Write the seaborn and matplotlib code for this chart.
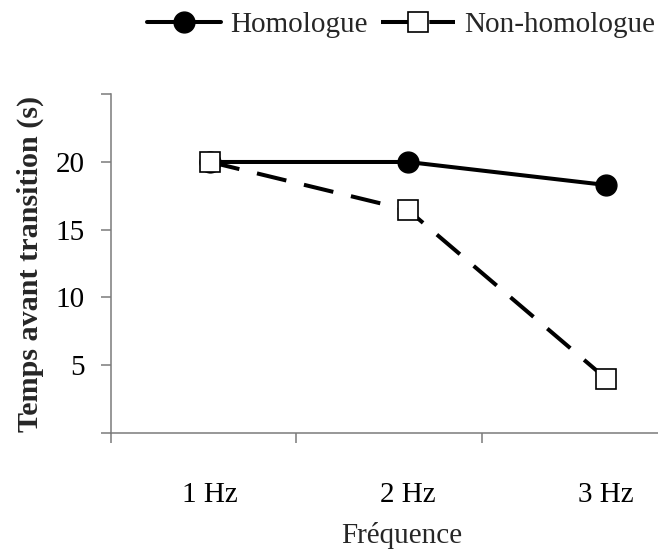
import matplotlib
matplotlib.use("Agg")
import matplotlib.pyplot as plt
import seaborn as sns
import pandas as pd

# Data
frequences = ["1 Hz", "2 Hz", "3 Hz"]
homologue = [20.0, 20.0, 18.3]
non_homologue = [20.0, 16.45, 4.0]
y_ticks = [0, 5, 10, 15, 20, 25]
y_tick_labels = ["", "5", "10", "15", "20", ""]

sns.set_style("ticks")
plt.rcParams["font.family"] = ["Liberation Serif", "DejaVu Serif"]

fig = plt.figure(figsize=(6.58, 5.52), dpi=100)
ax = fig.add_axes([111 / 658, 1 - 432.7 / 552, 547 / 658, 338.4 / 552])

df_h = pd.DataFrame({"freq": frequences, "temps": homologue})
df_n = pd.DataFrame({"freq": frequences, "temps": non_homologue})

sns.lineplot(data=df_h, x="freq", y="temps", ax=ax, color="black",
             linewidth=2.9, marker="o", markersize=15,
             markerfacecolor="black", markeredgecolor="black",
             markeredgewidth=1.0, label="Homologue")
sns.lineplot(data=df_n, x="freq", y="temps", ax=ax, color="black",
             linewidth=2.9, linestyle=(0, (7.5, 4.5)), marker="s",
             markersize=14, markerfacecolor="white", markeredgecolor="black",
             markeredgewidth=1.2, label="Non-homologue")

handles, labels = ax.get_legend_handles_labels()
if ax.get_legend() is not None:
    ax.get_legend().remove()

ax.set_xlim(-0.5, 2.2626)
ax.set_ylim(0, 25)
ax.set_yticks(y_ticks)
ax.set_yticklabels(y_tick_labels)
ax.set_xticks([0, 1, 2])
ax.set_xticklabels(frequences)
ax.set_xticks([-0.5, 0.434, 1.374], minor=True)

axis_grey = "#7a7a7a"
for side in ["top", "right"]:
    ax.spines[side].set_visible(False)
for side in ["left", "bottom"]:
    ax.spines[side].set_color(axis_grey)
    ax.spines[side].set_linewidth(1.1)

ax.tick_params(axis="x", which="major", length=0, pad=35.5, labelsize=21,
               colors="black")
ax.tick_params(axis="x", which="minor", length=7, width=1.1, color=axis_grey,
               direction="out")
ax.tick_params(axis="y", which="major", length=7, width=1.1, color=axis_grey,
               pad=12, labelsize=21, labelcolor="black")

ax.set_xlabel("Fréquence", fontsize=21)
ax.xaxis.set_label_coords((402 - 111) / 547, (432.7 - 522) / 338.4)
ax.set_ylabel("Temps avant transition (s)", fontsize=21.7, fontweight="bold")
ax.yaxis.set_label_coords((44 - 111) / 547, 0.5)

fig.legend(handles, labels, loc="center", bbox_to_anchor=(401 / 658, 1 - 25 / 552),
           ncol=2, frameon=False, fontsize=21, handlelength=2.55,
           handletextpad=0.3, columnspacing=0.45, borderaxespad=0, borderpad=0)

fig.savefig("out.png", dpi=100, facecolor="white")
